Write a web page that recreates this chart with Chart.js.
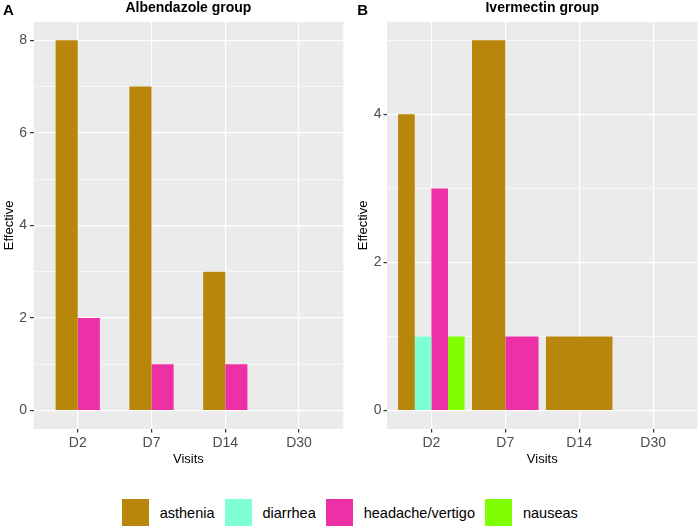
<!DOCTYPE html>
<html>
<head>
<meta charset="utf-8">
<script src="https://cdn.jsdelivr.net/npm/chart.js@4.4.1/dist/chart.umd.min.js"></script>
<style>
  body { margin: 0; background: #fff; width: 700px; height: 529px; position: relative; overflow: hidden;
         font-family: "Liberation Sans", Arial, sans-serif; }
  #chartA { position: absolute; left: 0; top: 0; }
  #chartB { position: absolute; left: 350px; top: 0; }
  #legend { position: absolute; left: 0; top: 499px; width: 700px; display: flex; justify-content: center;
            align-items: center; font-size: 14.5px; color: #000; }
  .item { display: flex; align-items: center; margin-right: 10.5px; }
  .item:last-child { margin-right: 0; }
  .swatch { width: 27px; height: 27px; margin-right: 10.5px; }
</style>
</head>
<body>
<canvas id="chartA" width="350" height="470"></canvas>
<canvas id="chartB" width="350" height="470"></canvas>
<div id="legend"></div>
<script>
// Categories and series
var visits = ['D2', 'D7', 'D14', 'D30'];
var symptoms = ['asthenia', 'diarrhea', 'headache/vertigo', 'nauseas'];

// Albendazole group counts per visit
var albAsthenia = [8, 7, 3, null];
var albDiarrhea = [null, null, null, null];
var albHeadache = [2, 1, 1, null];
var albNauseas = [null, null, null, null];

// Ivermectin group counts per visit
var ivmAsthenia = [4, 5, 1, null];
var ivmDiarrhea = [1, null, null, null];
var ivmHeadache = [3, 1, null, null];
var ivmNauseas = [1, null, null, null];

// Y tick labels (major) and minor grid values
var albMajor = [0, 2, 4, 6, 8];
var albMinor = [1, 3, 5, 7];
var ivmMajor = [0, 2, 4];
var ivmMinor = [1, 3, 5];

var colours = ['#B8860B', '#7FFFD4', '#EE30A7', '#7FFF00'];

Chart.defaults.font.family = '"Liberation Sans", Arial, sans-serif';

// Grey ggplot-style panel behind the grid.
var panelBgPlugin = {
    id: 'panelBg',
    beforeDraw: function(chart) {
        var a = chart.chartArea;
        var ctx = chart.ctx;
        ctx.save();
        ctx.fillStyle = '#EBEBEB';
        ctx.fillRect(a.left, a.top, a.right - a.left, a.bottom - a.top);
        ctx.restore();
    }
};

// Panel letter (A / B) in the top-left corner.
var panelTagPlugin = {
    id: 'panelTag',
    afterDraw: function(chart, _args, opts) {
        var ctx = chart.ctx;
        ctx.save();
        ctx.font = 'bold 15px "Liberation Sans", Arial, sans-serif';
        ctx.fillStyle = '#000';
        ctx.textBaseline = 'alphabetic';
        ctx.fillText(opts.text, opts.x, opts.y);
        ctx.restore();
    }
};

function makeChart(id, cfg) {
    var ticksAll = cfg.major.concat(cfg.minor).sort(function(a, b) { return a - b; });
    var isMajor = function(v) { return cfg.major.indexOf(v) !== -1; };

    var datasets = symptoms.map(function(name, i) {
        return {
            label: name,
            data: cfg.series[i].map(function(v, j) { return {x: j + 1, y: v}; }),
            backgroundColor: colours[i],
            borderWidth: 0,
            categoryPercentage: cfg.width,
            barPercentage: 1,
            skipNull: true
        };
    });

    return new Chart(document.getElementById(id), {
        type: 'bar',
        data: {datasets: datasets},
        options: {
            responsive: false,
            animation: false,
            layout: {padding: {left: 0, right: cfg.padRight, top: 0, bottom: 0}},
            scales: {
                x: {
                    type: 'linear',
                    min: 0.4,
                    max: 4.6,
                    offset: false,
                    afterBuildTicks: function(s) {
                        s.ticks = visits.map(function(_v, i) { return {value: i + 1}; });
                    },
                    afterFit: function(s) { s.height = 41; },
                    grid: {offset: false, color: '#FFFFFF', lineWidth: 1.2, tickColor: '#333333', tickLength: 3.5},
                    border: {display: false},
                    ticks: {
                        color: '#4D4D4D', font: {size: 14}, padding: 2.5, maxRotation: 0, autoSkip: false,
                        callback: function(_v, i) { return visits[i]; }
                    },
                    title: {display: true, text: 'Visits', color: '#000', font: {size: 13}, padding: {top: 0, bottom: 3}}
                },
                y: {
                    min: cfg.yMin,
                    max: cfg.yMax,
                    afterBuildTicks: function(s) {
                        s.ticks = ticksAll.map(function(v) { return {value: v}; });
                    },
                    afterFit: function(s) { s.width = cfg.yWidth; },
                    grid: {
                        color: '#FFFFFF',
                        lineWidth: function(c) { return c.tick && isMajor(c.tick.value) ? 1.2 : 0.6; },
                        tickColor: function(c) { return c.tick && isMajor(c.tick.value) ? '#333333' : 'rgba(0,0,0,0)'; },
                        tickLength: 3.5
                    },
                    border: {display: false},
                    ticks: {
                        color: '#4D4D4D', font: {size: 14}, padding: cfg.tickPad,
                        callback: function(v) { return isMajor(v) ? String(v) : ''; }
                    },
                    title: {display: true, text: 'Effective', color: '#000', font: {size: 13},
                            padding: {top: cfg.titlePad, bottom: 0}}
                }
            },
            plugins: {
                legend: {display: false},
                tooltip: {enabled: false},
                title: {
                    display: true, text: cfg.title, fullSize: false, color: '#000',
                    font: {size: 14, weight: 'bold'}, padding: {top: 0, bottom: 5}
                },
                panelTag: {text: cfg.tag, x: cfg.tagX, y: 14.5}
            }
        },
        plugins: [panelBgPlugin, panelTagPlugin]
    });
}

makeChart('chartA', {
    title: 'Albendazole group', tag: 'A', tagX: 3,
    series: [albAsthenia, albDiarrhea, albHeadache, albNauseas],
    major: albMajor, minor: albMinor, yMin: -0.4, yMax: 8.4,
    width: 0.6, yWidth: 33.5, padRight: 6.7, tickPad: 3, titlePad: 1.4
});

makeChart('chartB', {
    title: 'Ivermectin group', tag: 'B', tagX: 7.3,
    series: [ivmAsthenia, ivmDiarrhea, ivmHeadache, ivmNauseas],
    major: ivmMajor, minor: ivmMinor, yMin: -0.25, yMax: 5.25,
    width: 0.9, yWidth: 37, padRight: 2.5, tickPad: 2, titlePad: 5.2
});

// Shared legend
var legend = document.getElementById('legend');
symptoms.forEach(function(name, i) {
    var item = document.createElement('div');
    item.className = 'item';
    var sw = document.createElement('span');
    sw.className = 'swatch';
    sw.style.background = colours[i];
    var txt = document.createElement('span');
    txt.textContent = name;
    item.appendChild(sw);
    item.appendChild(txt);
    legend.appendChild(item);
});
</script>
</body>
</html>
